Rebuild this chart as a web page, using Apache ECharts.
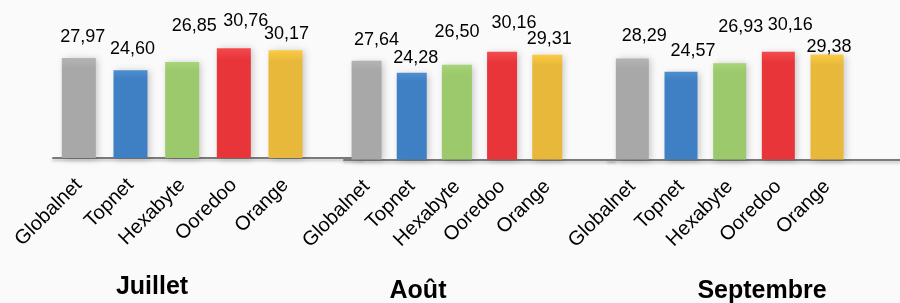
<!DOCTYPE html>
<html>
<head>
<meta charset="utf-8">
<script src="https://cdn.jsdelivr.net/npm/echarts@6/dist/echarts.min.js"></script>
<style>
html,body{margin:0;padding:0;background:#fafafa;}
#c{width:900px;height:303px;}
</style>
</head>
<body>
<div id="c"></div>
<script>
const categories = ['Globalnet', 'Topnet', 'Hexabyte', 'Ooredoo', 'Orange'];
const months = ['Juillet', 'Août', 'Septembre'];
const juillet = [27.97, 24.60, 26.85, 30.76, 30.17];
const aout = [27.64, 24.28, 26.50, 30.16, 29.31];
const septembre = [28.29, 24.57, 26.93, 30.16, 29.38];

// styling / layout (kept separate from data)
const barColors = [
  ['#b4b4b4', '#a8a8a8'],
  ['#4d8ed0', '#3e80c3'],
  ['#a8d47a', '#9bc96b'],
  ['#f54a4e', '#e8353a'],
  ['#fbcb45', '#e8b83a']
];
const labelOffsets = [
  [[4, -7], [2, -7], [12, -22], [12, -13], [1, -2]],
  [[10, -7], [4, -1], [0, -19], [12, -15], [2, -2]],
  [[12, -8], [12, -7], [11, -22], [12, -13], [2, 6]]
];
const grids = [
  {left: 53, top: 33, width: 310, height: 125},
  {left: 344, top: 34.5, width: 271, height: 125},
  {left: 608, top: 34.5, width: 300, height: 125}
];
const barWidths = [34, 30, 33];
const titlePos = [[152, 287], [418, 291], [762, 291]];

const seriesValues = [juillet, aout, septembre];

const chart = echarts.init(document.getElementById('c'));

const option = {
  backgroundColor: '#fafafa',
  animation: false,
  grid: grids.map(g => Object.assign({containLabel: false}, g)),
  xAxis: grids.map((g, i) => ({
    type: 'category',
    gridIndex: i,
    data: categories.concat(['']),
    axisLine: {show: true, lineStyle: {color: '#7a7a7a', width: 2, shadowColor: 'rgba(0,0,0,0.25)', shadowBlur: 3, shadowOffsetY: 2}},
    axisTick: {show: false},
    axisLabel: {
      interval: 0, rotate: 45, margin: 24,
      fontFamily: 'Liberation Sans, Arial, sans-serif', fontSize: 20, color: '#000'
    }
  })),
  yAxis: grids.map((g, i) => ({
    type: 'value', gridIndex: i, min: 0, max: 35, show: false,
    splitLine: {show: false}
  })),
  series: seriesValues.map((vals, i) => ({
    type: 'bar',
    xAxisIndex: i,
    yAxisIndex: i,
    barWidth: barWidths[i],
    data: vals.map((v, j) => ({
      value: v,
      itemStyle: {
        color: new echarts.graphic.LinearGradient(0, 0, 0, 1, [
          {offset: 0, color: barColors[j][0]},
          {offset: 0.1, color: barColors[j][1]},
          {offset: 1, color: barColors[j][1]}
        ]),
        shadowColor: 'rgba(0,0,0,0.22)',
        shadowBlur: 7,
        shadowOffsetX: 2,
        shadowOffsetY: 1
      },
      label: {offset: labelOffsets[i][j]}
    })),
    label: {
      show: true,
      position: 'top',
      distance: 5,
      fontFamily: 'Liberation Sans, Arial, sans-serif',
      fontSize: 18,
      color: '#000',
      formatter: p => p.value.toFixed(2).replace('.', ',')
    }
  })),
  graphic: months.map((m, i) => ({
    type: 'text',
    x: titlePos[i][0],
    y: titlePos[i][1],
    style: {
      text: m,
      align: 'center',
      verticalAlign: 'middle',
      font: 'bold 25px "Liberation Sans", Arial, sans-serif',
      fill: '#000'
    }
  }))
};
chart.setOption(option);
</script>
</body>
</html>
